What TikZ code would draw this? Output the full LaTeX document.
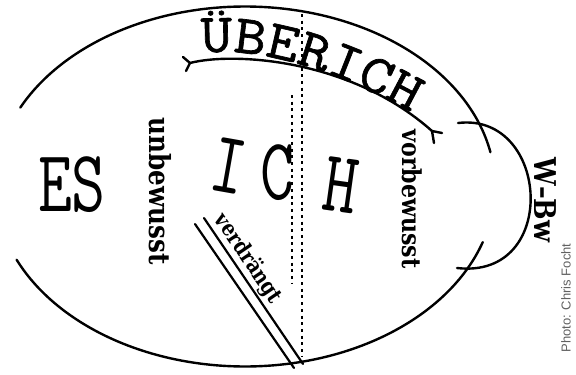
\documentclass[tikz,border=0pt]{standalone}
\usepackage{fontspec}
\usetikzlibrary{decorations.text}
\newfontfamily\typefont[FakeStretch=1.12, FakeBold=1.2]{Latin Modern Mono}
\newfontfamily\bigtype[FakeStretch=0.75]{Latin Modern Mono}
\newfontfamily\labfont[FakeStretch=0.85]{DejaVu Serif}
\newfontfamily\creditfont{Liberation Sans}
\tikzset{
  ink/.style={line width=2.4pt, line cap=round, draw=black},
  dots/.style={line width=2.3pt, dash pattern=on 3pt off 3.7pt, draw=black},
  bigletter/.style={inner sep=0pt, font=\bigtype\fontsize{88}{88}\selectfont},
  sidelabel/.style={inner sep=0pt, rotate=-90, font=\labfont\bfseries\fontsize{29}{29}\selectfont},
}
\begin{document}
\begin{tikzpicture}[x=1pt,y=-1pt]
\useasboundingbox (0,0) rectangle (576,375);
% outer ellipse (two arcs, open on the left and on the right)
\draw[ink] plot[domain=-154:-11, samples=120] ({245+250*cos(\x)}, {186.5+180*sin(\x)});
\draw[ink] plot[domain=18:156, samples=120] ({245+250*cos(\x)}, {186.5+180*sin(\x)});
% W-Bw bulge
\coordinate (wa) at (458,123);
\coordinate (wb) at (457,268);
\draw[ink] (wa) .. controls (550,112) and (560,280) .. (wb);
% UEBERICH inner arc with end marks
\coordinate (ua) at (190,63);
\coordinate (ub) at (432,131);
\draw[ink] (ua) .. controls (232,52) and (350,58) .. (ub);
\coordinate (ual) at (183,57);
\coordinate (uar) at (186,71);
\draw[ink] (ual) -- (ua) -- (uar);
\coordinate (ubr) at (442,133);
\coordinate (ubd) at (434,143);
\draw[ink] (ubr) -- (ub) -- (ubd);
% text UEBERICH along the band
\path[decorate, decoration={text along path, text align=left,
  text={|\typefont\fontsize{55}{55}\selectfont|ÜBERICH}}]
  (201,53) .. controls (250,47) and (340,63) .. (460,142);
% dotted boundaries
\coordinate (d1a) at (302,14);
\coordinate (d1b) at (302,357);
\coordinate (d2a) at (292,95);
\coordinate (d2b) at (292,283);
\draw[dots] (d1a) -- (d1b);
\draw[dots] (d2a) -- (d2b);
% repression double line
\coordinate (va) at (204,218);
\coordinate (vb) at (303,364);
\coordinate (wa2) at (195,224);
\coordinate (wb2) at (294,368);
\draw[ink, line width=2.2pt] (wa2) -- (wb2);
\draw[ink, line width=2.2pt] (va) -- node[sloped, above, pos=0.33, inner sep=1.5pt,
  font=\labfont\bfseries\fontsize{22}{22}\selectfont] (verd) {verdrängt} (vb);
% big letters
\node[bigletter] (es) at (72,185) {ES};
\node[bigletter, rotate=-10] (i) at (229,166) {I};
\node[bigletter] (c) at (277,173) {C};
\node[bigletter, rotate=-8] (h) at (341,185) {H};
% side labels
\node[sidelabel] (unb) at (160,191) {unbewusst};
\node[sidelabel, font=\labfont\bfseries\fontsize{26}{26}\selectfont] (vorb) at (412,199) {vorbewusst};
\node[sidelabel, font=\labfont\bfseries\fontsize{30}{30}\selectfont] (wbw) at (545,200) {W–Bw};
% credit
\node[inner sep=0pt, rotate=90, text=black!62, font=\creditfont\fontsize{13}{13}\selectfont] (credit) at (566,298) {Photo: Chris Focht};
\end{tikzpicture}
\end{document}
